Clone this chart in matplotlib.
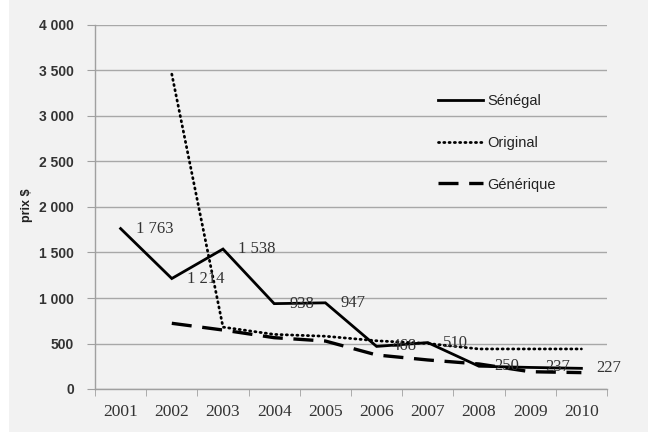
import matplotlib
matplotlib.use("Agg")
import matplotlib.pyplot as plt
from matplotlib.patches import Rectangle

years = ["2001", "2002", "2003", "2004", "2005", "2006", "2007", "2008", "2009", "2010"]
senegal = [1763, 1214, 1538, 938, 947, 468, 510, 250, 237, 227]
original = [None, 3460, 680, 600, 580, 530, 500, 440, 440, 440]
generique = [None, 722, 648, 564, 527, 374, 319, 275, 190, 180]
y_ticks = [0, 500, 1000, 1500, 2000, 2500, 3000, 3500, 4000]
y_tick_labels = ["0", "500", "1 000", "1 500", "2 000", "2 500", "3 000", "3 500", "4 000"]
value_labels = ["1 763", "1 214", "1 538", "938", "947", "468", "510", "250", "237", "227"]

bg = "#f2f2f2"
fig = plt.figure(figsize=(6.48, 4.34), dpi=100)
fig.patch.set_facecolor("white")
fig.patches.append(Rectangle((9 / 648, 2 / 434), 1, 1, transform=fig.transFigure,
                             facecolor=bg, edgecolor="none", zorder=-10))

ax = fig.add_axes([95 / 648, 1 - 389 / 434, 512 / 648, 364 / 434])
ax.set_facecolor(bg)

x = list(range(len(years)))

def series(vals):
    pts = [(i, v) for i, v in zip(x, vals) if v is not None]
    return [p[0] for p in pts], [p[1] for p in pts]

ax.plot(*series(senegal), color="black", lw=2.0, solid_joinstyle="miter",
        label="Sénégal", zorder=4)
ax.plot(*series(original), color="black", lw=2.0, linestyle=(0, (0.4, 1.5)),
        dash_capstyle="round", label="Original", zorder=3)
ax.plot(*series(generique), color="black", lw=2.4, linestyle=(0, (6, 3.2)),
        label="Générique", zorder=3)

for i, (v, t) in enumerate(zip(senegal, value_labels)):
    ax.annotate(t, (i, v), xytext=(11, 0), textcoords="offset points",
                ha="left", va="center", fontsize=12, family="Liberation Serif",
                color="#333333", zorder=5)

ax.set_xlim(-0.5, 9.5)
ax.set_ylim(0, 4000)
ax.set_yticks(y_ticks)
ax.set_yticklabels(y_tick_labels, fontsize=10, fontweight="bold",
                   family="Liberation Sans", color="#333333")
ax.set_xticks(x)
ax.set_xticklabels(years, fontsize=12.5, family="Liberation Serif", color="#333333")
ax.set_xticks([i - 0.5 for i in range(len(years) + 1)], minor=True)
ax.tick_params(axis="x", which="major", length=0, pad=11)
ax.tick_params(axis="x", which="minor", length=5, color="#a0a0a0", direction="out")
ax.tick_params(axis="y", length=6, color="#a0a0a0", pad=9)

ax.grid(axis="y", color="#a8a8a8", lw=1.0)
ax.set_axisbelow(True)
for s in ["top", "right"]:
    ax.spines[s].set_visible(False)
for s in ["left", "bottom"]:
    ax.spines[s].set_color("#a0a0a0")
    ax.spines[s].set_linewidth(1.0)

fig.text(27 / 648, 1 - 205 / 434, "prix $", rotation=90, ha="center", va="center",
         fontsize=9, fontweight="bold", family="Liberation Sans", color="#222222")

leg = ax.legend(loc="upper left", bbox_to_anchor=(425 / 648, 1 - 81 / 434),
                bbox_transform=fig.transFigure, frameon=False,
                prop={"family": "Liberation Sans", "size": 10.5},
                handlelength=3.1, handletextpad=0.3, labelspacing=1.9)
for t in leg.get_texts():
    t.set_color("#222222")

fig.savefig("out.png", dpi=100, facecolor=fig.get_facecolor())
